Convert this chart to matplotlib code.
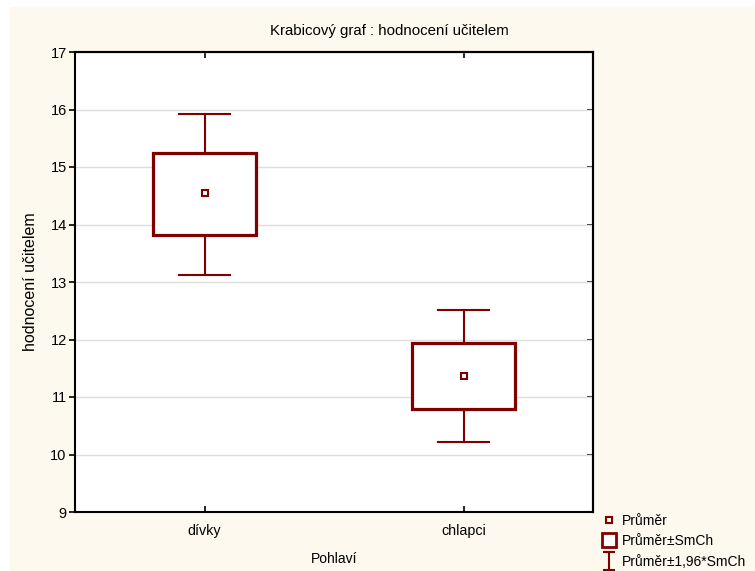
import numpy as np
import matplotlib
matplotlib.use("Agg")
import matplotlib.pyplot as plt
from matplotlib.patches import Rectangle
from matplotlib.lines import Line2D
from matplotlib.path import Path

plt.rcParams['font.family'] = ['Liberation Sans', 'DejaVu Sans']

# values
groups = ['dívky', 'chlapci']
means = [14.54, 11.37]
se_lo = [13.82, 10.80]     # mean - SE
se_hi = [15.24, 11.94]     # mean + SE
ci_lo = [13.13, 10.22]     # mean - 1.96*SE
ci_hi = [15.93, 12.51]     # mean + 1.96*SE
yticks = [9, 10, 11, 12, 13, 14, 15, 16, 17]

red = '#800000'
cream = '#fdf9ef'

W, H = 755, 571
fig = plt.figure(figsize=(W / 100, H / 100), dpi=100)
fig.patch.set_facecolor('white')
fig.add_artist(Rectangle((10 / W, 0), 1 - 10 / W, 1 - 7 / H, transform=fig.transFigure,
                         facecolor=cream, edgecolor='none', zorder=-10))

ax = fig.add_axes([75 / W, 1 - 512 / H, 518 / W, 460 / H])
ax.set_facecolor('white')

pos = np.arange(1, len(groups) + 1)
box_w = 0.4
cap_w = 0.2

for i, p in enumerate(pos):
    # whiskers
    ax.plot([p, p], [se_hi[i], ci_hi[i]], color=red, lw=1.5, zorder=3)
    ax.plot([p, p], [ci_lo[i], se_lo[i]], color=red, lw=1.5, zorder=3)
    ax.plot([p - cap_w / 2, p + cap_w / 2], [ci_hi[i], ci_hi[i]], color=red, lw=1.5, zorder=3)
    ax.plot([p - cap_w / 2, p + cap_w / 2], [ci_lo[i], ci_lo[i]], color=red, lw=1.5, zorder=3)
    # box
    ax.add_patch(Rectangle((p - box_w / 2, se_lo[i]), box_w, se_hi[i] - se_lo[i],
                           facecolor='white', edgecolor=red, lw=2.3, zorder=4))
    # mean
    ax.plot(p, means[i], marker='s', ms=4, mfc='white', mec=red, mew=1.5, ls='none', zorder=5)

ax.set_xlim(0.5, 2.5)
ax.set_ylim(9, 17)
ax.set_yticks(yticks)
ax.set_xticks(pos)
ax.set_xticklabels(groups)
ax.grid(axis='y', color='#dedede', lw=1)
ax.set_axisbelow(True)

for s in ax.spines.values():
    s.set_linewidth(1.5)
    s.set_color('black')
ax.tick_params(axis='y', direction='out', length=4, width=1.2, pad=2, labelsize=10.5)
ax.tick_params(axis='x', direction='in', length=4, width=1.2, pad=9, labelsize=10.3)

sec_y = ax.secondary_yaxis('right')
sec_y.set_yticks(yticks)
sec_y.tick_params(direction='in', length=4, width=1.2, labelright=False)
sec_y.spines['right'].set_linewidth(1.5)
sec_x = ax.secondary_xaxis('top')
sec_x.set_xticks(pos)
sec_x.tick_params(direction='in', length=4, width=1.2, labeltop=False)
sec_x.spines['top'].set_linewidth(1.5)

ax.set_ylabel('hodnocení učitelem', fontsize=11.5, labelpad=9)
ax.set_xlabel('Pohlaví', fontsize=10, labelpad=10)
fig.text(389 / W, 1 - 31 / H, 'Krabicový graf : hodnocení učitelem', ha='center', va='center',
         fontsize=10.8)

# legend
ibar = Path([(-0.62, 1), (0.62, 1), (0, 1), (0, -1), (-0.62, -1), (0.62, -1)],
            [Path.MOVETO, Path.LINETO, Path.MOVETO, Path.LINETO, Path.MOVETO, Path.LINETO])
handles = [
    Line2D([], [], marker='s', ms=4, mfc='white', mec=red, mew=1.5, ls='none'),
    Line2D([], [], marker='s', ms=10, mfc='white', mec=red, mew=2, ls='none'),
    Line2D([], [], marker=ibar, ms=13, mfc='none', mec=red, mew=1.5, ls='none'),
]
labels = ['Průměr', 'Průměr±SmCh', 'Průměr±1,96*SmCh']
fig.legend(handles, labels, loc='upper left', bbox_to_anchor=(602 / W, 1 - 514 / H),
           frameon=False, fontsize=10, handlelength=1.0, handletextpad=0.4,
           labelspacing=0.45, borderpad=0, borderaxespad=0)

fig.savefig('out.png', dpi=100, facecolor=fig.get_facecolor())
